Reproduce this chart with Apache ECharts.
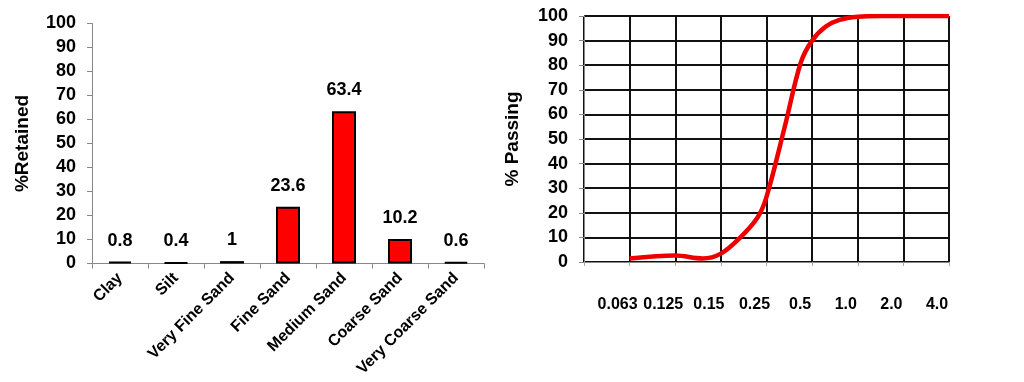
<!DOCTYPE html>
<html>
<head>
<meta charset="utf-8">
<script src="https://cdn.jsdelivr.net/npm/echarts@6/dist/echarts.min.js"></script>
<style>
html,body{margin:0;padding:0;background:#fff;}
#chart{width:1024px;height:382px;}
</style>
</head>
<body>
<div id="chart"></div>
<script>
// ---- Data ----
var categories = ['Clay', 'Silt', 'Very Fine Sand', 'Fine Sand', 'Medium Sand', 'Coarse Sand', 'Very Coarse Sand'];
var retained = [0.8, 0.4, 1, 23.6, 63.4, 10.2, 0.6];
var sieveLabels = ['0.063', '0.125', '0.15', '0.25', '0.5', '1.0', '2.0', '4.0'];
// position along sieve scale (1 = 0.063 line, 2 = 0.125 line, ...) and % passing
var curveX = [1, 2, 2.6, 3, 3.4, 3.8, 4, 4.4, 4.75, 5, 5.3, 5.6, 6, 6.5, 7, 8];
var curveY = [1.4, 2.6, 1.4, 3.4, 9.5, 18, 26.5, 55, 81, 90, 95.7, 98.4, 99.7, 100, 100, 100];
var yTicks = {min: 0, max: 100, interval: 10};

var FONT = '"Liberation Sans", Arial, sans-serif';
var curve = curveX.map(function (x, i) { return [x, curveY[i]]; });

var chart = echarts.init(document.getElementById('chart'), null, {renderer: 'canvas'});
chart.setOption({
  animation: false,
  backgroundColor: '#fff',
  textStyle: {fontFamily: FONT},
  grid: [
    {left: 92, top: 23.5, width: 392, height: 240, containLabel: false},
    {left: 584, top: 16, width: 365, height: 246, containLabel: false}
  ],
  xAxis: [
    {
      gridIndex: 0, type: 'category', data: categories,
      axisLine: {lineStyle: {color: '#888', width: 1}},
      axisTick: {show: true, alignWithLabel: false, length: 5, lineStyle: {color: '#888'}},
      axisLabel: {rotate: 45, margin: 12, fontSize: 16, fontWeight: 'bold', color: '#000', fontFamily: FONT, interval: 0},
      splitLine: {show: false}
    },
    {
      gridIndex: 1, type: 'value', min: 0, max: 8, interval: 1,
      axisLine: {show: true, lineStyle: {color: '#888', width: 1}},
      axisTick: {show: true, length: 4, lineStyle: {color: '#aaa'}},
      axisLabel: {
        margin: 35, fontSize: 16, fontWeight: 'bold', color: '#000', fontFamily: FONT,
        padding: [0, 24, 0, 0],
        formatter: function (v) { return v >= 1 ? sieveLabels[v - 1] : ''; }
      },
      splitLine: {show: true, lineStyle: {color: '#111', width: 2}}
    }
  ],
  yAxis: [
    {
      gridIndex: 0, type: 'value', min: yTicks.min, max: yTicks.max, interval: yTicks.interval,
      name: '%Retained', nameLocation: 'middle', nameGap: 60, nameRotate: 90,
      nameTextStyle: {fontSize: 19, fontWeight: 'bold', color: '#000', fontFamily: FONT},
      axisLine: {show: true, lineStyle: {color: '#888', width: 1}},
      axisTick: {show: true, length: 5, lineStyle: {color: '#888'}},
      axisLabel: {margin: 16, fontSize: 18, fontWeight: 'bold', color: '#000', fontFamily: FONT},
      splitLine: {show: false}
    },
    {
      gridIndex: 1, type: 'value', min: yTicks.min, max: yTicks.max, interval: yTicks.interval,
      name: '% Passing', nameLocation: 'middle', nameGap: 62, nameRotate: 90,
      nameTextStyle: {fontSize: 19, fontWeight: 'bold', color: '#000', fontFamily: FONT},
      axisLine: {show: true, lineStyle: {color: '#888', width: 1}},
      axisTick: {show: true, length: 5, lineStyle: {color: '#888'}},
      axisLabel: {margin: 16, fontSize: 18, fontWeight: 'bold', color: '#000', fontFamily: FONT},
      splitLine: {show: true, lineStyle: {color: '#111', width: 2}}
    }
  ],
  series: [
    {
      type: 'bar', xAxisIndex: 0, yAxisIndex: 0, data: retained,
      barWidth: 24,
      itemStyle: {color: '#ff0000', borderColor: '#000', borderWidth: 2},
      label: {show: true, position: 'top', distance: 12, fontSize: 18, fontWeight: 'bold', color: '#000', fontFamily: FONT}
    },
    {
      type: 'line', xAxisIndex: 1, yAxisIndex: 1, data: curve,
      smooth: 0.35, showSymbol: false, symbol: 'none',
      lineStyle: {color: '#ee0000', width: 4.5}
    }
  ]
});
</script>
</body>
</html>
